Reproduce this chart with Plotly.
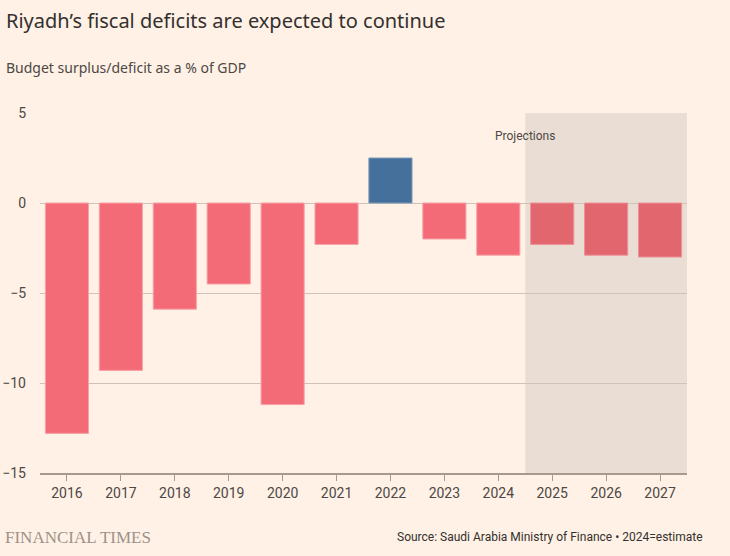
import plotly.graph_objects as go

years = ["2016", "2017", "2018", "2019", "2020", "2021", "2022", "2023", "2024", "2025", "2026", "2027"]
balance = [-12.8, -9.3, -5.9, -4.5, -11.2, -2.3, 2.5, -2.0, -2.9, -2.3, -2.9, -3.0]
projection_years = ["2025", "2026", "2027"]
y_ticks = [5, 0, -5, -10, -15]

bg = "#fff1e5"
colors, lines = [], []
for y, v in zip(years, balance):
    if v >= 0:
        colors.append("#45709b"); lines.append("#7f9bb8")
    elif y in projection_years:
        colors.append("#e1666e"); lines.append("#ee9197")
    else:
        colors.append("#f36b76"); lines.append("#f7a2a8")

fig = go.Figure(go.Bar(x=years, y=balance, marker=dict(color=colors, line=dict(color=lines, width=1)),
                       width=0.8, hoverinfo="skip"))

fig.add_shape(type="rect", xref="x", yref="paper", x0=8.5, x1=11.5, y0=0, y1=1,
              fillcolor="#e9ddd4", line_width=0, layer="below")
fig.add_annotation(x=8.5, xref="x", y=1, yref="paper", yshift=-14, text="Projections", showarrow=False,
                   font=dict(size=12, color="#4d4845", family="Roboto"))

fig.update_layout(
    width=730, height=556, paper_bgcolor=bg, plot_bgcolor=bg,
    margin=dict(l=40, r=43, t=113, b=83),
    showlegend=False,
    font=dict(family="Roboto", color="#66605c"),
    xaxis=dict(range=[-0.5, 11.5], showgrid=False, showline=True, linecolor="#a59990", linewidth=1.5,
               ticks="outside", ticklen=6, tickcolor="#a59990", tickfont=dict(size=14, color="#4d4845"),
               fixedrange=True, automargin=False),
    yaxis=dict(range=[-15, 5], tickvals=y_ticks, showgrid=True, gridcolor="#cfc3b9", gridwidth=1,
               zeroline=True, zerolinecolor="#cfc3b9", zerolinewidth=1, ticks="", showline=False,
               tickfont=dict(size=14, color="#4d4845"), ticklabelstandoff=13, fixedrange=True,
               automargin=False),
)
fig.add_annotation(xref="paper", yref="paper", x=0, xshift=-36, y=1, yshift=93, xanchor="left", yanchor="middle",
                   text="Riyadh’s fiscal deficits are expected to continue", showarrow=False,
                   font=dict(size=20, color="#33302e", family="Noto Sans"))
fig.add_annotation(xref="paper", yref="paper", x=0, xshift=-36, y=1, yshift=46, xanchor="left", yanchor="middle",
                   text="Budget surplus/deficit as a % of GDP", showarrow=False,
                   font=dict(size=14, color="#4d4845", family="Noto Sans"))
fig.add_annotation(xref="paper", yref="paper", x=0, xshift=-37, y=0, yshift=-64, xanchor="left", yanchor="middle",
                   text="FINANCIAL TIMES", showarrow=False,
                   font=dict(size=17, color="#9e918a", family="Liberation Serif"))
fig.add_annotation(xref="paper", yref="paper", x=1, xshift=18, y=0, yshift=-64, xanchor="right", yanchor="middle",
                   text="Source: Saudi Arabia Ministry of Finance • 2024=estimate", showarrow=False,
                   font=dict(size=12, color="#33302e", family="Roboto"))

fig.write_html("out.html", config={"displayModeBar": False},
               post_script="document.body.style.margin='0';")
